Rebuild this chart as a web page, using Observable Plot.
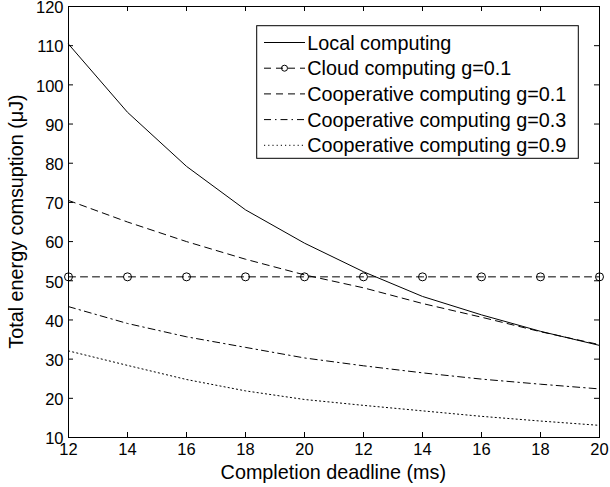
<!DOCTYPE html>
<html><head><meta charset="utf-8">
<script src="https://cdn.jsdelivr.net/npm/d3@7"></script>
<script src="https://cdn.jsdelivr.net/npm/@observablehq/plot@0.6"></script>
<style>body{margin:0;background:#fff} #chart{width:610px;height:487px}</style>
</head><body><div id="chart"></div>
<script>
// ---- data ----
const xIndex = [0, 1, 2, 3, 4, 5, 6, 7, 8, 9];
const xTickLabels = ["12", "14", "16", "18", "20", "12", "14", "16", "18", "20"];
const yTicks = [10, 20, 30, 40, 50, 60, 70, 80, 90, 100, 110, 120];
const localComputing = [110.4, 93.0, 79.2, 68.1, 59.6, 52.3, 46.0, 41.3, 37.1, 33.5];
const cloudComputing = [51, 51, 51, 51, 51, 51, 51, 51, 51, 51];
const coop01 = [70.5, 65.0, 60.0, 55.5, 51.5, 48.2, 44.2, 40.7, 37.0, 33.7];
const coop03 = [43.4, 39.1, 35.7, 33.0, 30.3, 28.3, 26.5, 24.9, 23.6, 22.4];
const coop09 = [32.1, 28.4, 24.8, 21.9, 19.7, 18.2, 16.8, 15.4, 14.2, 13.1];
const seriesNames = ["Local computing", "Cloud computing g=0.1", "Cooperative computing g=0.1", "Cooperative computing g=0.3", "Cooperative computing g=0.9"];
const xLabel = "Completion deadline (ms)";
const yLabel = "Total energy comsuption (μJ)";

// ---- layout & styles ----
const W = 610, H = 487, mL = 68, mR = 11, mT = 6, mB = 50;
const frameW = W - mL - mR, frameH = H - mT - mB, tickLen = 5;
const dashes = ["none", "7,5", "7,5", "7,4,1.5,4", "1.2,3"];
const seriesValues = [localComputing, cloudComputing, coop01, coop03, coop09];
const rows = seriesValues.flatMap((vals, s) => vals.map((v, i) => ({x: xIndex[i], y: v, s})));
const font = "'Liberation Sans', Arial, Helvetica, sans-serif";

const lineMarks = seriesValues.map((vals, s) =>
  Plot.line(rows.filter(d => d.s === s), {x: "x", y: "y", stroke: "#000", strokeWidth: 1, strokeDasharray: dashes[s]})
);

const chart = Plot.plot({
  width: W, height: H,
  marginLeft: mL, marginRight: mR, marginTop: mT, marginBottom: mB,
  style: {fontFamily: font, fontSize: "16.5px", color: "#000", background: "#fff", overflow: "visible"},
  x: {domain: [0, 9]},
  y: {domain: [10, 120]},
  marks: [
    Plot.axisX({anchor: "bottom", ticks: xIndex, tickSize: 0, tickPadding: 6, tickFormat: i => xTickLabels[i], label: null}),
    Plot.axisY({anchor: "left", ticks: yTicks, tickSize: 0, tickPadding: 5, dy: 1.5, label: null}),
    // inward tick marks on all four sides
    Plot.ruleX(xIndex, {x: d => d, insetTop: frameH - tickLen, stroke: "#000"}),
    Plot.ruleX(xIndex, {x: d => d, insetBottom: frameH - tickLen, stroke: "#000"}),
    Plot.ruleY(yTicks, {y: d => d, insetRight: frameW - tickLen, stroke: "#000"}),
    Plot.ruleY(yTicks, {y: d => d, insetLeft: frameW - tickLen, stroke: "#000"}),
    ...lineMarks,
    Plot.dot(rows.filter(d => d.s === 1), {x: "x", y: "y", r: 4, stroke: "#000", strokeWidth: 1, fill: "none"}),
    Plot.frame({stroke: "#000", strokeWidth: 1})
  ]
});
document.getElementById("chart").appendChild(chart);

// ---- axis titles and legend ----
const svg = d3.select(chart);
svg.append("text").attr("x", 333.3).attr("y", 479).attr("text-anchor", "middle")
  .attr("font-family", font).attr("font-size", 19.8).attr("fill", "#000").text(xLabel);
svg.append("text").attr("transform", "translate(23,221.5) rotate(-90)").attr("text-anchor", "middle")
  .attr("font-family", font).attr("font-size", 19.8).attr("fill", "#000").text(yLabel);

const lg = svg.append("g");
lg.append("rect").attr("x", 256.7).attr("y", 25.7).attr("width", 321.6).attr("height", 132.6)
  .attr("fill", "#fff").attr("stroke", "#000").attr("stroke-width", 1);
seriesNames.forEach((name, s) => {
  const cy = 42.5 + s * 25.7;
  lg.append("line").attr("x1", 264).attr("x2", 305).attr("y1", cy).attr("y2", cy)
    .attr("stroke", "#000").attr("stroke-width", 1).attr("stroke-dasharray", dashes[s] === "none" ? null : dashes[s]);
  if (s === 1) lg.append("circle").attr("cx", 284.5).attr("cy", cy).attr("r", 3).attr("fill", "none").attr("stroke", "#000");
  lg.append("text").attr("x", 307.3).attr("y", cy + 7).attr("text-anchor", "start")
    .attr("font-family", font).attr("font-size", 19.8).attr("fill", "#000").text(name);
});
</script></body></html>
